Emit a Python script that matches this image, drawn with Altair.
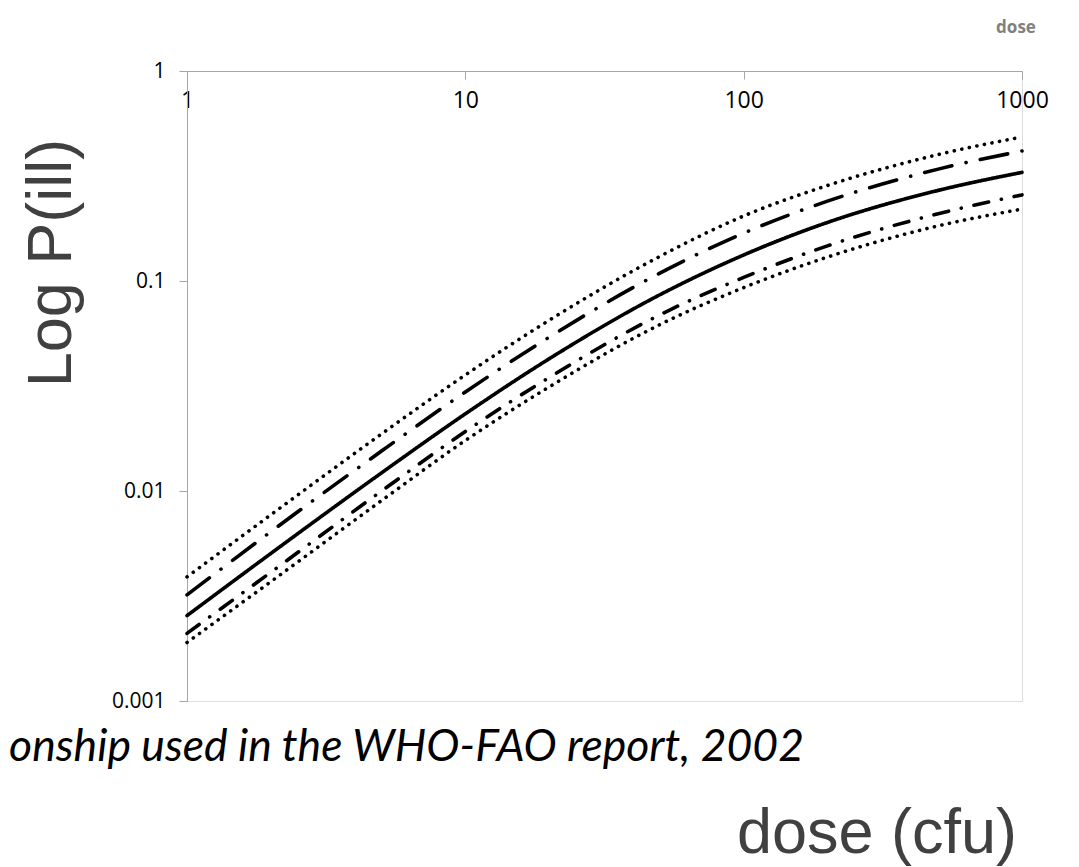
import altair as alt
import pandas as pd

# dose values (cfu)
doses = [1, 2, 5, 10, 20, 50, 100, 200, 500, 1000]

# P(ill)
upper_dotted = [0.0039, 0.0077, 0.0187, 0.0357, 0.065, 0.131, 0.204, 0.285, 0.400, 0.485]
upper_dashdot = [0.0032, 0.0064, 0.0155, 0.0296, 0.054, 0.109, 0.169, 0.240, 0.341, 0.416]
central = [0.00255, 0.00504, 0.0122, 0.0233, 0.0426, 0.0860, 0.133, 0.190, 0.270, 0.329]
lower_dashdot = [0.0021, 0.0041, 0.0100, 0.0192, 0.0347, 0.0690, 0.104, 0.147, 0.209, 0.257]
lower_dotted = [0.0019, 0.0037, 0.0090, 0.0174, 0.0313, 0.0620, 0.093, 0.130, 0.183, 0.220]

series_names = ["upper_dotted", "upper_dashdot", "central", "lower_dashdot", "lower_dotted"]
series_values = [upper_dotted, upper_dashdot, central, lower_dashdot, lower_dotted]
dash_patterns = [[0.1, 7.6], [28, 14.5, 0.1, 14.5], [1, 0], [15, 13, 0.1, 13], [0.1, 7.6]]

x_ticks = [1, 10, 100, 1000]
y_ticks = [0.001, 0.01, 0.1, 1]

rows = []
for name, vals in zip(series_names, series_values):
    for d, v in zip(doses, vals):
        rows.append({"series": name, "dose": d, "p": v})
df = pd.DataFrame(rows)

W, H = 835, 630
AX = "#a6a6a6"

lines = alt.Chart(df).mark_line(
    color="black", strokeWidth=3.6, strokeCap="round", interpolate="monotone"
).encode(
    x=alt.X("dose:Q",
            scale=alt.Scale(type="log", domain=[1, 1000], nice=False),
            axis=alt.Axis(orient="bottom", offset=-H, values=x_ticks, format="~g",
                          grid=False, title=None, domainColor=AX, tickColor=AX,
                          tickSize=8, labelFont="Open Sans", labelFontSize=23,
                          labelColor="black", labelPadding=10, labelFlush=False,
                          labelOverlap=False, labelBound=False)),
    y=alt.Y("p:Q",
            scale=alt.Scale(type="log", domain=[0.001, 1], nice=False),
            axis=alt.Axis(values=y_ticks, format="~g", grid=False, title=None,
                          domainColor=AX, tickColor=AX, tickSize=8,
                          labelFont="Open Sans", labelFontSize=21,
                          labelColor="black", labelPadding=14, labelFlush=False,
                          labelOverlap=False)),
    strokeDash=alt.StrokeDash("series:N",
                              scale=alt.Scale(domain=series_names, range=dash_patterns),
                              legend=None),
    detail="series:N",
)

ylabel = alt.Chart(pd.DataFrame({"t": ["Log P(ill)"]})).mark_text(
    font="Liberation Sans", fontSize=63, color="#404040", angle=270,
    align="center", baseline="alphabetic"
).encode(x=alt.value(-116), y=alt.value(192), text="t:N")

xlabel = alt.Chart(pd.DataFrame({"t": ["dose (cfu)"]})).mark_text(
    font="Liberation Sans", fontSize=63, color="#404040",
    align="center", baseline="alphabetic"
).encode(x=alt.value(690), y=alt.value(782), text="t:N")

caption = alt.Chart(pd.DataFrame({"t": ["onship used in the WHO-FAO report, 2002"]})).mark_text(
    font="Lato", fontSize=44.5, fontStyle="italic", color="black",
    align="right", baseline="alphabetic"
).encode(x=alt.value(617), y=alt.value(690), text="t:N")

corner = alt.Chart(pd.DataFrame({"t": ["dose"]})).mark_text(
    font="Open Sans", fontSize=17, fontWeight="bold", color="#808080",
    align="center", baseline="alphabetic"
).encode(x=alt.value(829), y=alt.value(-38), text="t:N")

chart = alt.layer(lines, ylabel, xlabel, caption, corner).properties(
    width=W, height=H,
    autosize=alt.AutoSizeParams(type="none"),
    padding={"left": 187, "top": 71, "right": 57, "bottom": 166},
).configure_view(stroke=None).configure(background="white")

chart.save("out.html", embed_options={"renderer": "svg", "actions": False})
